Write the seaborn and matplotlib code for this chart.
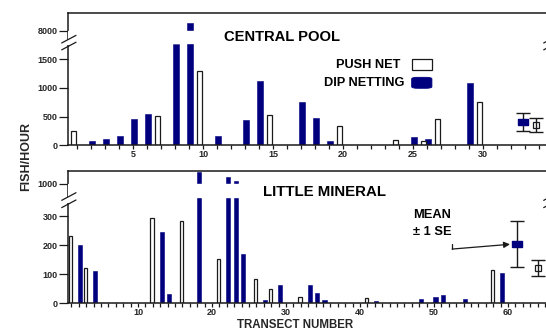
import numpy as np
import pandas as pd
import matplotlib
matplotlib.use("Agg")
import matplotlib.pyplot as plt
import matplotlib.patches as mpatches
import matplotlib.ticker as mticker
import seaborn as sns

# ---------------- data ----------------
# Central Pool (fish/hour) by transect number
cp_dip_transect = [2, 3, 4, 5, 6, 8, 9, 11, 13, 14, 17, 18, 19, 25, 26, 29]
cp_dip_value = [75, 110, 160, 455, 540, 1765, 8130, 155, 440, 1115, 760, 475, 80, 145, 115, 1080]
cp_push_transect = [0, 6, 9, 14, 19, 23, 25, 26, 29]
cp_push_value = [250, 505, 1300, 535, 336, 90, 75, 458, 755]
cp_dip_mean, cp_dip_se = 405, 154
cp_push_mean, cp_push_se = 350, 122

# Little Mineral (fish/hour) by transect number
lm_dip_transect = [2, 4, 13, 14, 18, 22, 23, 24, 27, 29, 33, 34, 35, 42, 48, 50, 51, 54, 59]
lm_dip_value = [203, 113, 246, 32, 1049, 1031, 1017, 172, 13, 62, 63, 34, 13, 8, 14, 22, 27, 16, 104]
lm_push_transect = [0, 2, 11, 15, 20, 25, 27, 31, 40, 57]
lm_push_value = [234, 122, 295, 286, 153, 84, 51, 21, 17, 114]
lm_dip_mean, lm_dip_se = 205, 78
lm_push_mean, lm_push_se = 122, 27

top_yticks = [0, 500, 1000, 1500, 8000]
bot_yticks = [0, 100, 200, 300, 1000]
top_xticks = [5, 10, 15, 20, 25, 30]
bot_xticks = [10, 20, 30, 40, 50, 60]

# ---------------- style ----------------
sns.set_style("ticks")
plt.rcParams["font.family"] = ["Liberation Sans", "DejaVu Sans"]
plt.rcParams["font.weight"] = "bold"

NAVY = "#00007f"
INK = "#1a1a1a"

fig = plt.figure(figsize=(5.46, 3.31), dpi=100)
W, H = 546.0, 331.0
ax1 = fig.add_axes([68 / W, 1 - 145.3 / H, (550 - 68) / W, (145.3 - 13.3) / H])
ax2 = fig.add_axes([68 / W, 1 - 303.3 / H, (550 - 68) / W, (303.3 - 171) / H])


def make_break_scale(b0, b1, d1):
    # identity below b0, compressed gap [b0,b1] -> [b0,d1], shifted above b1
    shift = b1 - d1
    k = (d1 - b0) / (b1 - b0)

    def fwd(v):
        v = np.asarray(v, dtype=float)
        return np.where(v <= b0, v, np.where(v >= b1, v - shift, b0 + (v - b0) * k))

    def inv(d):
        d = np.asarray(d, dtype=float)
        return np.where(d <= b0, d, np.where(d >= d1, d + shift, b0 + (d - b0) / k))

    return fwd, inv


def draw_bars(ax, transects, values, offset, width_units, face, edge, lw):
    x = np.asarray(transects, dtype=float) + offset
    uniq = np.unique(x)
    native = np.min(np.diff(uniq)) if len(uniq) > 1 else 1.0
    df = pd.DataFrame({"pos": x, "val": values})
    sns.barplot(data=df, x="pos", y="val", native_scale=True, orient="x",
                width=width_units / native, color=face, saturation=1,
                edgecolor=edge, linewidth=lw, errorbar=None, ax=ax, zorder=1)


def draw_mean(ax, xd, md, sd, xp, mp, sp):
    ax.errorbar([xd], [md], yerr=[sd], fmt="none", ecolor=INK, elinewidth=1.0,
                capsize=5, capthick=1.0, zorder=4)
    ax.errorbar([xp], [mp], yerr=[sp], fmt="none", ecolor=INK, elinewidth=1.0,
                capsize=5, capthick=1.0, zorder=4)
    rect = [(-1, -0.5), (1, -0.5), (1, 0.5), (-1, 0.5), (-1, -0.5)]
    ax.plot([xd], [md], linestyle="none", marker=rect, markersize=7.4,
            markerfacecolor=NAVY, markeredgecolor=NAVY, zorder=5)
    ax.plot([xp], [mp], linestyle="none", marker="s", markersize=5,
            markerfacecolor="none", markeredgecolor=INK, markeredgewidth=0.9, zorder=5)


def break_marks(ax, ys):
    for xa in (0.0, 1.0):
        for yc in ys:
            ax.plot([xa - 6.3 / 482, xa + 8 / 482], [yc - 3.8 / 132, yc + 3.8 / 132],
                    transform=ax.transAxes, color=INK, lw=0.9, clip_on=False, zorder=11)
        ax.add_patch(mpatches.Rectangle((xa - 0.004, min(ys) + 0.006), 0.008,
                                        abs(ys[0] - ys[1]) - 0.012,
                                        transform=ax.transAxes, facecolor="white",
                                        edgecolor="none", clip_on=False, zorder=10))


def style_axis(ax, xlim, xticks, yticks):
    ax.set_xlim(*xlim)
    ax.set_xticks(xticks)
    ax.xaxis.set_minor_locator(mticker.MultipleLocator(1))
    ax.set_yticks(yticks)
    ax.set_yticklabels([str(t) for t in yticks])
    ax.set_xticklabels([str(t) for t in xticks])
    ax.tick_params(axis="x", which="both", direction="out", length=3.2, width=0.9,
                   color=INK, labelsize=6.5, pad=0.5)
    ax.tick_params(axis="y", which="major", direction="out", length=6.5, width=0.9,
                   color=INK, labelsize=6.5, pad=1)
    ax.tick_params(axis="y", which="minor", length=0)
    for lab in ax.get_xticklabels() + ax.get_yticklabels():
        lab.set_fontweight("bold")
    ax.set_xlabel("")
    ax.set_ylabel("")
    for s in ("top", "left", "bottom"):
        ax.spines[s].set_color(INK)
        ax.spines[s].set_linewidth(1.1)
    ax.spines["right"].set_visible(False)
    ax.set_facecolor("white")


# ---------------- top panel: Central Pool ----------------
f1, i1 = make_break_scale(1787, 8000, 2000)
ax1.set_yscale("function", functions=(f1, i1))
draw_bars(ax1, cp_dip_transect, cp_dip_value, 0.1, 0.43, NAVY, NAVY, 0.4)
draw_bars(ax1, cp_push_transect, cp_push_value, 0.75, 0.36, "white", INK, 0.9)
ax1.axhspan(1787, 8000, color="white", zorder=3)
draw_mean(ax1, 32.85, cp_dip_mean, cp_dip_se, 33.8, cp_push_mean, cp_push_se)
ax1.set_ylim(0, 8300)
style_axis(ax1, (0.357, 34.79), top_xticks, top_yticks)
break_marks(ax1, (0.804, 0.752))

ax1.text(0.444, 0.820, "CENTRAL POOL", transform=ax1.transAxes, ha="center",
         va="center", fontsize=10.6, fontweight="bold", color="black", zorder=6)
ax1.text(0.689, 0.608, "PUSH NET", transform=ax1.transAxes, ha="right",
         va="center", fontsize=9.2, fontweight="bold", color="black", zorder=6)
ax1.text(0.697, 0.472, "DIP NETTING", transform=ax1.transAxes, ha="right",
         va="center", fontsize=9.2, fontweight="bold", color="black", zorder=6)
ax1.add_patch(mpatches.Rectangle((0.713, 0.570), 0.042, 0.082, transform=ax1.transAxes,
                                 facecolor="white", edgecolor=INK, lw=0.9, zorder=6))
ax1.add_patch(mpatches.FancyBboxPatch((0.713, 0.432), 0.042, 0.083,
                                      boxstyle="round,pad=0,rounding_size=0.012",
                                      transform=ax1.transAxes, facecolor=NAVY,
                                      edgecolor=NAVY, lw=0.6, zorder=6))

# ---------------- bottom panel: Little Mineral ----------------
f2, i2 = make_break_scale(368, 1008, 413)
ax2.set_yscale("function", functions=(f2, i2))
draw_bars(ax2, lm_dip_transect, lm_dip_value, 0.2, 0.58, NAVY, NAVY, 0.4)
draw_bars(ax2, lm_push_transect, lm_push_value, 0.9, 0.45, "white", INK, 0.9)
ax2.axhspan(368, 1008, color="white", zorder=3)
draw_mean(ax2, 61.2, lm_dip_mean, lm_dip_se, 64.0, lm_push_mean, lm_push_se)
ax2.set_ylim(0, 1052)
style_axis(ax2, (0.54, 65.68), bot_xticks, bot_yticks)
break_marks(ax2, (0.807, 0.752))

ax2.text(0.533, 0.841, "LITTLE MINERAL", transform=ax2.transAxes, ha="center",
         va="center", fontsize=10.8, fontweight="bold", color="black", zorder=6)
ax2.text(0.716, 0.667, "MEAN", transform=ax2.transAxes, ha="left",
         va="center", fontsize=9.3, fontweight="bold", color="black", zorder=6)
ax2.text(0.716, 0.541, "\u00b1 1 SE", transform=ax2.transAxes, ha="left",
         va="center", fontsize=9.3, fontweight="bold", color="black", zorder=6)
ax2.plot([0.797, 0.797], [0.448, 0.410], transform=ax2.transAxes, color=INK,
         lw=0.9, zorder=6)
ax2.annotate("", xy=(0.917, 0.446), xytext=(0.797, 0.410),
             xycoords="axes fraction", textcoords="axes fraction",
             arrowprops=dict(arrowstyle="-|>", color=INK, lw=0.9,
                             mutation_scale=9, shrinkA=0, shrinkB=0), zorder=6)

# ---------------- shared labels ----------------
fig.text(26 / W, 1 - 157 / H, "FISH/HOUR", rotation=90, ha="center", va="center",
         fontsize=9, fontweight="bold")
fig.text(295 / W, 1 - 325 / H, "TRANSECT NUMBER", ha="center", va="center",
         fontsize=8.3, fontweight="bold")

fig.savefig("out.png", dpi=100, facecolor="white")
